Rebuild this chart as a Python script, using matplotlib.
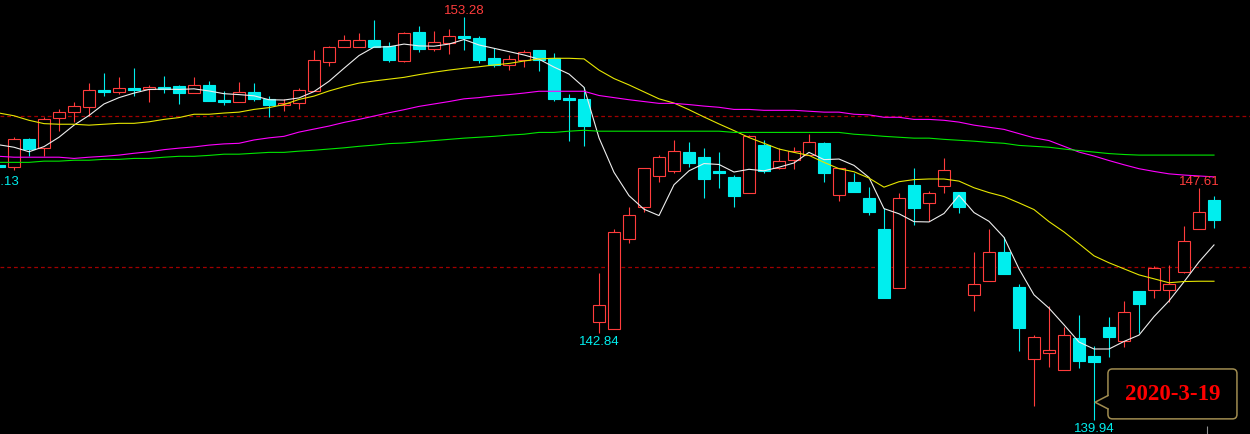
import numpy as np
import matplotlib
matplotlib.use('Agg')
import matplotlib.pyplot as plt
from matplotlib.patches import Rectangle, FancyBboxPatch, Polygon

plt.rcParams['font.family'] = ['Liberation Sans', 'DejaVu Sans']

# daily bars, the first one is cut off at the left edge of the window
opens = [148.39, 148.33, 149.24, 148.96, 149.93, 150.13, 150.31, 150.86, 150.81, 150.93,
         150.90, 150.96, 150.98, 150.77, 151.03, 150.53, 150.48, 150.79, 150.58, 150.37,
         150.42, 150.84, 151.80, 152.27, 152.29, 152.51, 152.33, 151.82, 152.78, 152.22,
         152.43, 152.65, 152.58, 151.92, 151.70, 151.85, 152.18, 151.92, 150.60, 150.57,
         143.19, 142.95, 145.95, 146.99, 148.01, 148.18, 148.81, 148.64, 148.19, 147.99,
         147.47, 149.04, 148.28, 148.56, 148.72, 149.11, 147.40, 147.82, 147.29, 146.27,
         144.30, 147.72, 147.12, 147.68, 147.49, 144.08, 144.54, 145.51, 144.35, 141.96,
         142.16, 141.60, 142.67, 142.07, 143.02, 142.56, 144.21, 144.26, 144.26, 144.86,
         146.26, 147.23]
highs = [148.45, 149.32, 149.28, 149.98, 150.23, 150.46, 151.09, 151.42, 151.28, 151.59,
         151.03, 151.33, 151.03, 151.28, 151.16, 150.82, 151.13, 151.09, 150.66, 150.57,
         150.93, 152.18, 152.33, 152.68, 152.75, 153.18, 152.44, 152.79, 152.98, 152.81,
         152.88, 153.28, 152.65, 152.25, 152.02, 152.18, 152.18, 152.09, 150.73, 150.95,
         144.81, 146.27, 147.00, 148.27, 148.71, 149.21, 149.15, 148.95, 148.81, 148.04,
         149.37, 149.21, 148.94, 148.97, 149.42, 149.14, 148.27, 148.13, 147.65, 146.96,
         147.46, 148.27, 147.53, 148.62, 147.49, 145.51, 146.27, 145.99, 144.44, 142.77,
         143.73, 143.02, 143.43, 142.39, 143.35, 143.88, 144.21, 145.05, 145.08, 146.37,
         147.61, 147.36]
lows = [148.13, 148.23, 148.69, 148.69, 149.52, 149.81, 150.01, 150.67, 150.73, 150.67,
        150.48, 150.76, 150.40, 150.77, 150.51, 150.37, 150.48, 150.51, 149.98, 150.18,
        150.23, 150.84, 151.67, 152.27, 152.27, 152.29, 151.80, 151.78, 152.13, 152.16,
        152.05, 152.19, 151.75, 151.61, 151.52, 151.63, 151.50, 150.51, 149.19, 149.02,
        142.84, 142.95, 145.82, 146.82, 147.83, 148.13, 148.33, 147.29, 147.63, 147.01,
        147.47, 148.11, 148.26, 148.26, 148.72, 147.83, 147.20, 147.49, 146.73, 143.99,
        144.30, 146.41, 146.54, 147.45, 146.81, 143.54, 144.54, 144.79, 142.25, 140.41,
        141.72, 141.60, 141.67, 139.94, 142.03, 142.35, 142.83, 144.00, 143.85, 144.81,
        146.26, 146.30]
closes = [148.33, 149.24, 148.91, 149.90, 150.13, 150.32, 150.86, 150.81, 150.92, 150.87,
          150.95, 150.91, 150.77, 151.02, 150.51, 150.48, 150.79, 150.57, 150.37, 150.43,
          150.86, 151.84, 152.27, 152.51, 152.51, 152.29, 151.85, 152.75, 152.22, 152.44,
          152.64, 152.58, 151.85, 151.70, 151.88, 152.11, 151.85, 150.57, 150.54, 149.68,
          143.75, 146.16, 146.72, 148.27, 148.64, 148.84, 148.46, 147.93, 148.13, 147.37,
          149.33, 148.20, 148.51, 148.84, 149.13, 148.13, 148.27, 147.49, 146.84, 143.99,
          147.28, 146.96, 147.45, 148.21, 146.99, 144.44, 145.50, 144.79, 143.01, 142.69,
          142.27, 142.76, 141.90, 141.86, 142.71, 143.52, 143.80, 144.97, 144.45, 145.86,
          146.82, 146.58]

# moving average lines
ma5 = [149.05, 148.97, 148.82, 148.99, 149.30, 149.70, 150.02, 150.40, 150.61, 150.76,
       150.88, 150.89, 150.88, 150.90, 150.83, 150.74, 150.71, 150.67, 150.54, 150.53,
       150.60, 150.81, 151.15, 151.58, 152.00, 152.28, 152.29, 152.38, 152.32, 152.31,
       152.38, 152.53, 152.35, 152.24, 152.13, 152.02, 151.88, 151.62, 151.39, 150.95,
       149.28, 148.14, 147.37, 146.92, 146.71, 147.73, 148.19, 148.43, 148.40, 148.15,
       148.24, 148.19, 148.31, 148.45, 148.80, 148.56, 148.58, 148.37, 147.97, 146.94,
       146.77, 146.51, 146.50, 146.78, 147.38, 146.81, 146.52, 145.99, 144.95, 144.09,
       143.65, 143.10, 142.53, 142.30, 142.30, 142.55, 142.76, 143.37, 143.89, 144.52,
       145.18, 145.74]
ma20 = [150.10, 150.01, 149.86, 149.75, 149.73, 149.73, 149.70, 149.73, 149.76, 149.76,
        149.81, 149.89, 149.95, 150.06, 150.06, 150.10, 150.13, 150.22, 150.28, 150.38,
        150.55, 150.66, 150.83, 150.97, 151.09, 151.16, 151.22, 151.28, 151.37, 151.45,
        151.52, 151.58, 151.63, 151.69, 151.74, 151.82, 151.89, 151.91, 151.91, 151.89,
        151.52, 151.24, 151.03, 150.80, 150.57, 150.43, 150.21, 149.97, 149.74, 149.52,
        149.29, 149.10, 148.91, 148.80, 148.70, 148.47, 148.26, 148.16, 147.95, 147.65,
        147.83, 147.90, 147.92, 147.92, 147.85, 147.63, 147.47, 147.34, 147.13, 146.91,
        146.51, 146.17, 145.78, 145.38, 145.15, 144.95, 144.75, 144.62, 144.49, 144.53,
        144.54, 144.54]
ma60 = [148.67, 148.64, 148.64, 148.64, 148.64, 148.60, 148.64, 148.67, 148.71, 148.77,
        148.82, 148.89, 148.94, 148.98, 149.04, 149.08, 149.10, 149.21, 149.28, 149.33,
        149.47, 149.57, 149.67, 149.79, 149.89, 150.00, 150.11, 150.21, 150.32, 150.40,
        150.48, 150.57, 150.61, 150.67, 150.71, 150.76, 150.82, 150.82, 150.82, 150.82,
        150.68, 150.61, 150.54, 150.48, 150.42, 150.42, 150.38, 150.33, 150.29, 150.22,
        150.22, 150.19, 150.19, 150.19, 150.16, 150.13, 150.13, 150.06, 150.04, 149.96,
        149.96, 149.89, 149.89, 149.86, 149.80, 149.70, 149.63, 149.56, 149.42, 149.28,
        149.19, 149.00, 148.81, 148.68, 148.53, 148.39, 148.26, 148.17, 148.09, 148.05,
        148.02, 147.99]
ma120 = [148.47, 148.47, 148.47, 148.51, 148.51, 148.54, 148.54, 148.57, 148.57, 148.60,
         148.60, 148.64, 148.67, 148.67, 148.70, 148.74, 148.74, 148.77, 148.80, 148.80,
         148.84, 148.87, 148.91, 148.95, 149.00, 149.04, 149.09, 149.11, 149.15, 149.19,
         149.23, 149.27, 149.30, 149.33, 149.37, 149.40, 149.46, 149.46, 149.50, 149.53,
         149.50, 149.50, 149.50, 149.50, 149.50, 149.50, 149.50, 149.50, 149.50, 149.46,
         149.46, 149.46, 149.46, 149.46, 149.46, 149.46, 149.46, 149.40, 149.37, 149.33,
         149.30, 149.27, 149.27, 149.23, 149.20, 149.17, 149.13, 149.10, 149.03, 149.00,
         148.97, 148.91, 148.86, 148.81, 148.76, 148.73, 148.71, 148.71, 148.71, 148.71,
         148.71, 148.71]

grid_levels = [150.0, 145.0]
# marked extremes: (position in the lists, which end of the bar)
marks = [(0, 'low'), (31, 'high'), (40, 'low'), (73, 'low'), (80, 'high')]
callout_text = '2020-3-19'
callout_bar = 73

RED = '#ff3c3c'
CYAN = '#00eeee'
LW = 0.8

x = np.arange(len(opens)) - 1

fig = plt.figure(figsize=(12.5, 4.35), dpi=100, facecolor='black')
ax = fig.add_axes([0, 0, 1, 1])
ax.set_facecolor('black')
ax.set_xlim(-0.933, 82.4)
ax.set_ylim(139.49, 153.87)
ax.axis('off')

for lv in grid_levels:
    ax.axhline(lv, color='#a00000', lw=0.9, linestyle=(0, (3, 2.4)), zorder=1)

w = 0.8
for xi, o, h, l, c in zip(x, opens, highs, lows, closes):
    up = c >= o
    col = RED if up else CYAN
    lo_b, hi_b = min(o, c), max(o, c)
    ax.vlines(xi, l, lo_b, color=col, lw=LW, zorder=2)
    ax.vlines(xi, hi_b, h, color=col, lw=LW, zorder=2)
    hgt = max(hi_b - lo_b, 0.04)
    ax.add_patch(Rectangle((xi - w / 2, lo_b), w, hgt, facecolor='black' if up else col,
                           edgecolor=col, lw=LW, zorder=3))

ax.plot(x, ma5, color='#eeeeee', lw=LW, zorder=4)
ax.plot(x, ma20, color='#e6e600', lw=LW, zorder=4)
ax.plot(x, ma60, color='#ff00ff', lw=LW, zorder=4)
ax.plot(x, ma120, color='#00e600', lw=LW, zorder=4)

for i, kind in marks:
    if kind == 'high':
        ax.annotate(f'{highs[i]:.2f}', (x[i], highs[i]), xytext=(0, 7), textcoords='offset pixels',
                    ha='center', va='center', color=RED, fontsize=9.5, zorder=5,
                    annotation_clip=False)
    else:
        ax.annotate(f'{lows[i]:.2f}', (x[i], lows[i]), xytext=(0, -8), textcoords='offset pixels',
                    ha='center', va='center', color=CYAN, fontsize=9.5, zorder=5,
                    annotation_clip=False)

# callout box pointing at the low bar
xb = x[callout_bar]
bx0, bx1 = xb + 0.93, xb + 9.53
by0, by1 = 139.99, 141.64
edge = '#a08c50'
ax.add_patch(FancyBboxPatch((bx0, by0), bx1 - bx0, by1 - by0,
                            boxstyle='round,pad=0,rounding_size=0.3', mutation_aspect=0.5,
                            facecolor='black', edgecolor=edge, lw=1.1, zorder=6))
tip = (xb + 0.07, 140.54)
ax.add_patch(Polygon([(bx0 + 0.08, 140.76), tip, (bx0 + 0.08, 140.32)], closed=True,
                     facecolor='black', edgecolor='none', zorder=7))
ax.plot([bx0, tip[0], bx0], [140.76, tip[1], 140.32], color=edge, lw=1.1, zorder=7)
ax.text((bx0 + bx1) / 2, 140.82, callout_text, ha='center', va='center', color='#ff0000',
        fontsize=16.5, fontweight='bold', family='Liberation Serif', zorder=8)

ax.vlines(79.53, 139.49, 139.76, color='#909090', lw=LW, zorder=2)

fig.savefig('out.png', dpi=100, facecolor='black')
